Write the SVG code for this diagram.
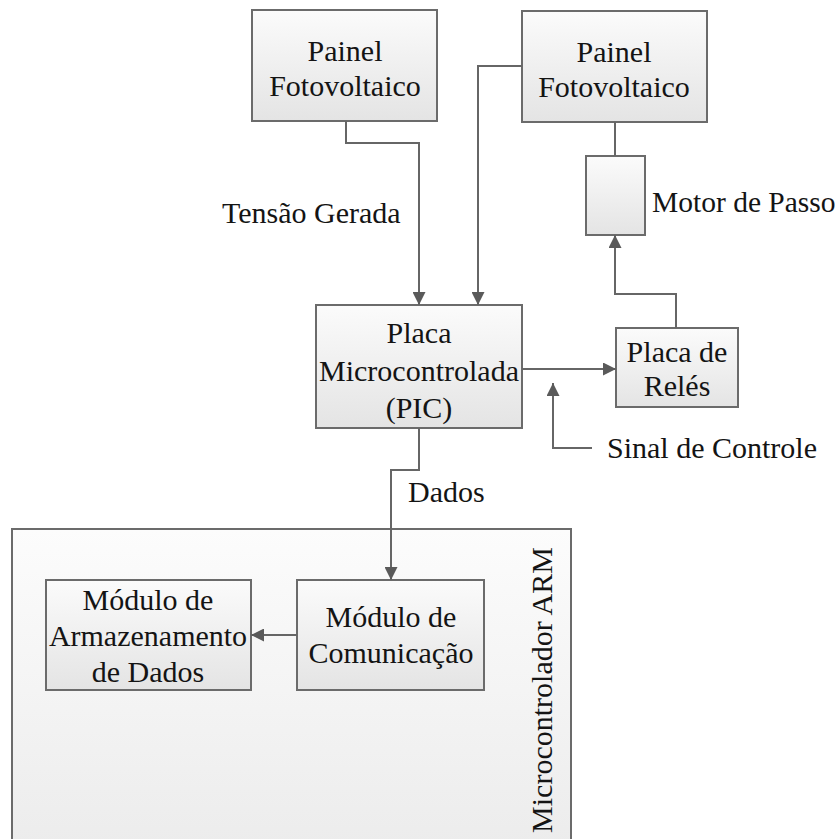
<svg xmlns="http://www.w3.org/2000/svg" width="838" height="839" viewBox="0 0 838 839" font-family="'Liberation Serif', 'Times New Roman', Times, serif">
  <style>
    .box { fill: url(#boxFill); stroke: #6b6b6b; stroke-width: 2; }
    .frame { fill: url(#frameFill); stroke: #6b6b6b; stroke-width: 2; }
    text { font-family: 'Liberation Serif', 'Times New Roman', Times, serif; font-size: 30px; fill: #141414; }
    .mid { text-anchor: middle; }
    .wire { fill: none; stroke: #666666; stroke-width: 2; }
    .arrow { marker-end: url(#head); }
  </style>
  <defs>
    <linearGradient id="boxFill" x1="0" y1="0" x2="0" y2="1">
      <stop offset="0" stop-color="#fbfbfb"/>
      <stop offset="1" stop-color="#e4e4e4"/>
    </linearGradient>
    <linearGradient id="frameFill" x1="0" y1="0" x2="0" y2="1">
      <stop offset="0" stop-color="#fcfcfc"/>
      <stop offset="1" stop-color="#ececec"/>
    </linearGradient>
    <marker id="head" viewBox="0 0 10 10" refX="10" refY="5" markerUnits="userSpaceOnUse" markerWidth="14" markerHeight="13" orient="auto">
      <path d="M0,0 L10,5 L0,10 z" fill="#5a5a5a"/>
    </marker>
  </defs>

  <rect width="838" height="839" fill="#ffffff"/>

  <!-- ARM microcontroller frame -->
  <g id="arm">
    <rect class="frame" x="12" y="529" width="559" height="320"/>
    <text class="mid" transform="translate(552,690) rotate(-90)">Microcontrolador ARM</text>
  </g>

  <g id="painel1">
    <rect class="box" x="252" y="10" width="185" height="111"/>
    <text class="mid" x="345" y="61">Painel</text>
    <text class="mid" x="345" y="96">Fotovoltaico</text>
  </g>

  <g id="painel2">
    <rect class="box" x="522" y="11" width="185" height="111"/>
    <text class="mid" x="614" y="62">Painel</text>
    <text class="mid" x="614" y="97">Fotovoltaico</text>
  </g>

  <g id="motor">
    <rect class="box" x="586" y="156" width="59" height="79"/>
    <text x="652" y="212" style="font-size:29.5px">Motor de Passo</text>
  </g>

  <g id="pic">
    <rect class="box" x="316" y="305" width="206" height="123"/>
    <text class="mid" x="419" y="343">Placa</text>
    <text class="mid" x="419" y="381">Microcontrolada</text>
    <text class="mid" x="419" y="418">(PIC)</text>
  </g>

  <g id="reles">
    <rect class="box" x="616" y="328" width="122" height="79"/>
    <text class="mid" x="677" y="362">Placa de</text>
    <text class="mid" x="677" y="396">Relés</text>
  </g>

  <g id="armazenamento">
    <rect class="box" x="46" y="580" width="205" height="110"/>
    <text class="mid" x="148" y="610">Módulo de</text>
    <text class="mid" x="148" y="646">Armazenamento</text>
    <text class="mid" x="148" y="682">de Dados</text>
  </g>

  <g id="comunicacao">
    <rect class="box" x="297" y="580" width="187" height="110"/>
    <text class="mid" x="391" y="627">Módulo de</text>
    <text class="mid" x="391" y="663">Comunicação</text>
  </g>

  <!-- connectors -->
  <g id="connectors">
    <path class="wire arrow" d="M346,121 V143 H419 V305"/>
    <path class="wire arrow" d="M522,66 H478 V305"/>
    <path class="wire" d="M615,122 V156"/>
    <path class="wire arrow" d="M676,328 V294 H615 V235"/>
    <path class="wire arrow" d="M522,369 H616"/>
    <path class="wire arrow" d="M592,448 H553 V383"/>
    <path class="wire arrow" d="M419,428 V470 H391 V580"/>
    <path class="wire arrow" d="M297,635 H251"/>
  </g>

  <!-- connector labels -->
  <g id="labels">
    <text x="222" y="223">Tensão Gerada</text>
    <text x="408" y="502">Dados</text>
    <text x="607" y="458">Sinal de Controle</text>
  </g>
</svg>
